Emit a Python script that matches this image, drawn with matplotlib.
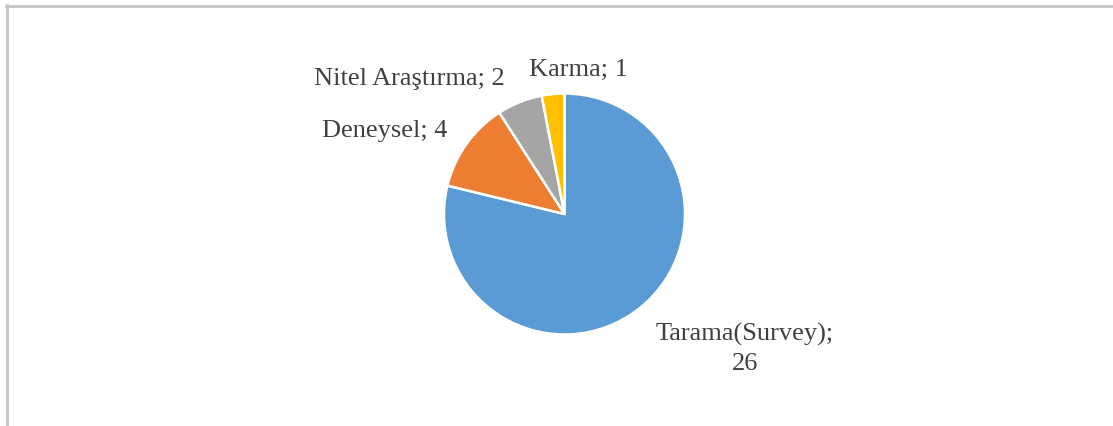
import matplotlib
matplotlib.use("Agg")
import matplotlib.pyplot as plt
from matplotlib.lines import Line2D

categories = ["Tarama(Survey)", "Deneysel", "Nitel Araştırma", "Karma"]
values = [26, 4, 2, 1]
colors = ["#5B9BD5", "#ED7D31", "#A5A5A5", "#FFC000"]

W, H = 1113, 426
fig = plt.figure(figsize=(W / 100, H / 100), dpi=100)
ax = fig.add_axes([0, 0, 1, 1])

cx, cy, r = 564.5, H - 214, 120.5
ax.pie(values, colors=colors, startangle=90, counterclock=False,
       center=(cx, cy), radius=r, frame=True,
       wedgeprops=dict(edgecolor="white", linewidth=1.8))
ax.set_xlim(0, W)
ax.set_ylim(0, H)
ax.set_aspect("equal")
ax.axis("off")

font = dict(family="Liberation Serif", fontsize=19, color="#404040")
label_pos = {
    "Tarama(Survey)": (745, 349),
    "Deneysel": (385, 131),
    "Nitel Araştırma": (409, 79),
    "Karma": (578, 70),
}
for cat, val in zip(categories, values):
    x, y = label_pos[cat]
    if cat == "Tarama(Survey)":
        txt = f"{cat};\n{val}"
    else:
        txt = f"{cat}; {val}"
    ax.text(x, H - y, txt, ha="center", va="center", linespacing=1.45, **font)

# outer border (partially visible frame)
fig.add_artist(Line2D([6.5 / W, 6.5 / W], [0, 1 - 5 / H], transform=fig.transFigure,
                      color="#c4c4c4", linewidth=2))
fig.add_artist(Line2D([6 / W, 1], [1 - 5.5 / H, 1 - 5.5 / H], transform=fig.transFigure,
                      color="#c4c4c4", linewidth=2))

fig.savefig("out.png", dpi=100, facecolor="white")
